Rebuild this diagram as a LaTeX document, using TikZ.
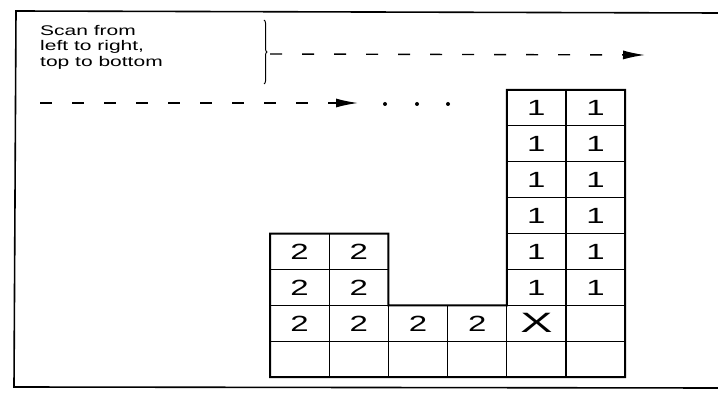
\documentclass[tikz,border=0pt]{standalone}
\usepackage{fontspec}
\setmainfont{Liberation Sans}
\usepackage{graphicx}
\usetikzlibrary{arrows.meta,decorations.pathreplacing}

\newcommand{\wide}[2][1.5]{\scalebox{#1}[1]{#2}}
\newcommand{\markx}{\fontsize{28}{28}\selectfont\scalebox{1.15}[1]{X}}

\tikzset{
  cell/.style={draw, line width=1.2pt, minimum width=59.2pt, minimum height=35.9pt,
    inner sep=0pt, outer sep=0pt, font=\fontsize{22}{22}\selectfont},
  scanline/.style={line width=1.4pt, dash pattern=on 12pt off 20pt,
    -{Latex[length=22pt,width=9pt]}},
}

\begin{document}
\begin{tikzpicture}[x=1pt,y=-1pt]
        \useasboundingbox (0,0) rectangle (718,395);

        % Frame
        \draw[line width=1.6pt] (718,13) -- (16,11) -- (14,387) -- (718,388);

        % Caption
        \node[anchor=north west, inner sep=0pt, align=left,
          font=\fontsize{14}{15.5}\selectfont] (scantext) at (40,25)
          {\wide{Scan from}\\\wide{left to right,}\\\wide{top to bottom}};

        % Scan direction
        \draw[line width=1pt, decorate, decoration={brace, amplitude=3pt}] (264,20) -- (264,84);
        \coordinate (toprowstart) at (270,54);
        \coordinate (toprowend) at (645,55);
        \draw[scanline] (toprowstart) -- (toprowend);

        \coordinate (rowstart) at (40,103);
        \coordinate (rowend) at (358,103);
        \draw[scanline] (rowstart) -- (rowend);
        \foreach \x in {385,417,448}
          \fill (\x,104) circle (2pt);

        % Labelled cells
        \foreach \c/\r/\lbl in {4/0/1,5/0/1,4/1/1,5/1/1,4/2/1,5/2/1,
                                4/3/1,5/3/1,4/4/1,5/4/1,4/5/1,5/5/1,
                                0/4/2,1/4/2,0/5/2,1/5/2,
                                0/6/2,1/6/2,2/6/2,3/6/2,4/6/\markx,5/6/,
                                0/7/,1/7/,2/7/,3/7/,4/7/,5/7/}
          \node[cell] (c\c\r) at ({270+59.2*(\c+0.5)},{90+35.9*(\r+0.5)}) {\wide{\lbl}};

        % Outline
        \draw[line width=2pt] (c04.north west) -- (c14.north east) -- (c16.north east)
          -- (c36.north east) -- (c40.north west) -- (c50.north east)
          -- (c57.south east) -- (c07.south west) -- cycle;

\end{tikzpicture}
\end{document}
